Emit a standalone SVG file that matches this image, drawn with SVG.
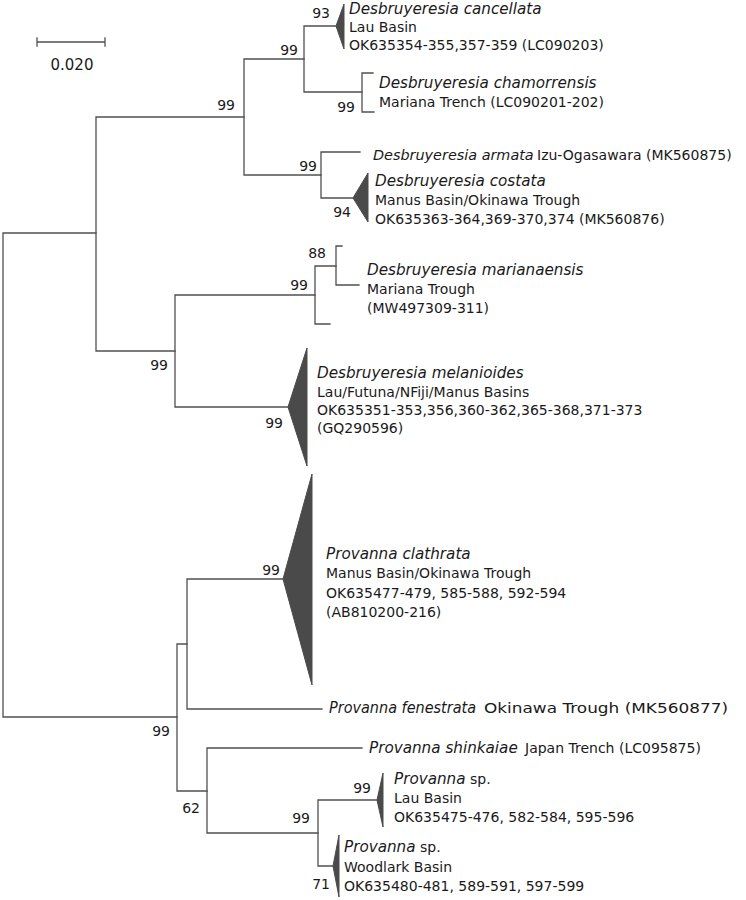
<svg xmlns="http://www.w3.org/2000/svg" width="746" height="900" viewBox="0 0 746 900">
<style>
  .br{fill:none;stroke:#505050;stroke-width:1.3;stroke-linecap:square}
  .tri{fill:#4a4a4a;stroke:#4a4a4a;stroke-width:1}
  text{font-family:"DejaVu Sans","Verdana",sans-serif;font-size:14px;fill:#1a1a1a}
  .bs{text-anchor:end}
  .it{font-style:italic;font-size:15.2px}
</style>
<rect width="746" height="900" fill="#ffffff"/>
<g id="scale">
  <path class="br" d="M37,42 H105 M37,38 V46 M105,38 V46"/>
  <text x="72" y="70" text-anchor="middle" style="font-size:15px">0.020</text>
</g>
<g id="connectors">
  <path class="br" d="M3,233 V717 M3,233 H96 M3,717 H177"/>
  <path class="br" d="M96,117 V351 M96,117 H244 M96,351 H175"/>
  <path class="br" d="M244,59 V175 M244,59 H304 M244,175 H321"/>
  <path class="br" d="M304,26 V92 M304,26 H336 M304,92 H362"/>
  <path class="br" d="M362,73 V112 M362,73 H373 M362,112 H374"/>
  <path class="br" d="M321,152 V198 M321,152 H360 M321,198 H353"/>
  <path class="br" d="M175,295 V407 M175,295 H315 M175,407 H288"/>
  <path class="br" d="M315,266 V324 M315,266 H336 M315,324 H330"/>
  <path class="br" d="M336,246 V285 M336,246 H342 M336,285 H359"/>
  <path class="br" d="M177,644 V791 M177,644 H187 M177,791 H207"/>
  <path class="br" d="M187,579 V709 M187,579 H283 M187,709 H322"/>
  <path class="br" d="M207,748 V833 M207,748 H362 M207,833 H318"/>
  <path class="br" d="M318,800 V866 M318,800 H377 M318,866 H333"/>
</g>
<g id="bootstrap">
  <text class="bs" x="330" y="18">93</text>
  <text class="bs" x="298" y="55">99</text>
  <text class="bs" x="235" y="110">99</text>
  <text class="bs" x="355" y="112">99</text>
  <text class="bs" x="317" y="171">99</text>
  <text class="bs" x="351" y="217">94</text>
  <text class="bs" x="326" y="258">88</text>
  <text class="bs" x="308" y="290">99</text>
  <text class="bs" x="168" y="370">99</text>
  <text class="bs" x="283" y="428">99</text>
  <text class="bs" x="280" y="575">99</text>
  <text class="bs" x="170" y="736">99</text>
  <text class="bs" x="200" y="813">62</text>
  <text class="bs" x="310" y="823">99</text>
  <text class="bs" x="371" y="793">99</text>
  <text class="bs" x="330" y="889">71</text>
</g>
<g id="d-cancellata">
  <polygon class="tri" points="336,26 344,4 344,49"/>
  <text class="it" x="349" y="14">Desbruyeresia cancellata</text>
  <text x="349" y="32">Lau Basin</text>
  <text x="349" y="50">OK635354-355,357-359 (LC090203)</text>
</g>
<g id="d-chamorrensis">
  <text class="it" x="379" y="88">Desbruyeresia chamorrensis</text>
  <text x="379" y="107">Mariana Trench (LC090201-202)</text>
</g>
<g id="d-armata">
  <text class="it" x="373" y="160" style="font-size:14.4px">Desbruyeresia armata</text>
  <text x="537" y="160">Izu-Ogasawara (MK560875)</text>
</g>
<g id="d-costata">
  <polygon class="tri" points="353,198 368,173 368,222"/>
  <text class="it" x="375" y="186">Desbruyeresia costata</text>
  <text x="375" y="205">Manus Basin/Okinawa Trough</text>
  <text x="375" y="224">OK635363-364,369-370,374 (MK560876)</text>
</g>
<g id="d-marianaensis">
  <text class="it" x="367" y="275">Desbruyeresia marianaensis</text>
  <text x="367" y="294">Mariana Trough</text>
  <text x="367" y="313">(MW497309-311)</text>
</g>
<g id="d-melanioides">
  <polygon class="tri" points="288,407 307,348 307,466"/>
  <text class="it" x="317" y="378">Desbruyeresia melanioides</text>
  <text x="317" y="397">Lau/Futuna/NFiji/Manus Basins</text>
  <text x="317" y="415">OK635351-353,356,360-362,365-368,371-373</text>
  <text x="317" y="433">(GQ290596)</text>
</g>
<g id="p-clathrata">
  <polygon class="tri" points="283,579 312,474 312,685"/>
  <text class="it" x="326" y="559">Provanna clathrata</text>
  <text x="326" y="578">Manus Basin/Okinawa Trough</text>
  <text x="326" y="598">OK635477-479, 585-588, 592-594</text>
  <text x="326" y="617">(AB810200-216)</text>
</g>
<g id="p-fenestrata">
  <text class="it" x="329" y="713" textLength="147" lengthAdjust="spacingAndGlyphs">Provanna fenestrata</text>
  <text x="484" y="713" style="font-size:14.8px" textLength="244" lengthAdjust="spacingAndGlyphs">Okinawa Trough (MK560877)</text>
</g>
<g id="p-shinkaiae">
  <text class="it" x="369" y="753">Provanna shinkaiae</text>
  <text x="525" y="753">Japan Trench (LC095875)</text>
</g>
<g id="p-sp-lau">
  <polygon class="tri" points="377,800 383,773 383,827"/>
  <text x="394" y="784"><tspan class="it">Provanna</tspan> sp.</text>
  <text x="394" y="803">Lau Basin</text>
  <text x="394" y="822">OK635475-476, 582-584, 595-596</text>
</g>
<g id="p-sp-woodlark">
  <polygon class="tri" points="333,866 339,835 339,897"/>
  <text x="344" y="852"><tspan class="it">Provanna</tspan> sp.</text>
  <text x="344" y="872">Woodlark Basin</text>
  <text x="344" y="891">OK635480-481, 589-591, 597-599</text>
</g>
</svg>
